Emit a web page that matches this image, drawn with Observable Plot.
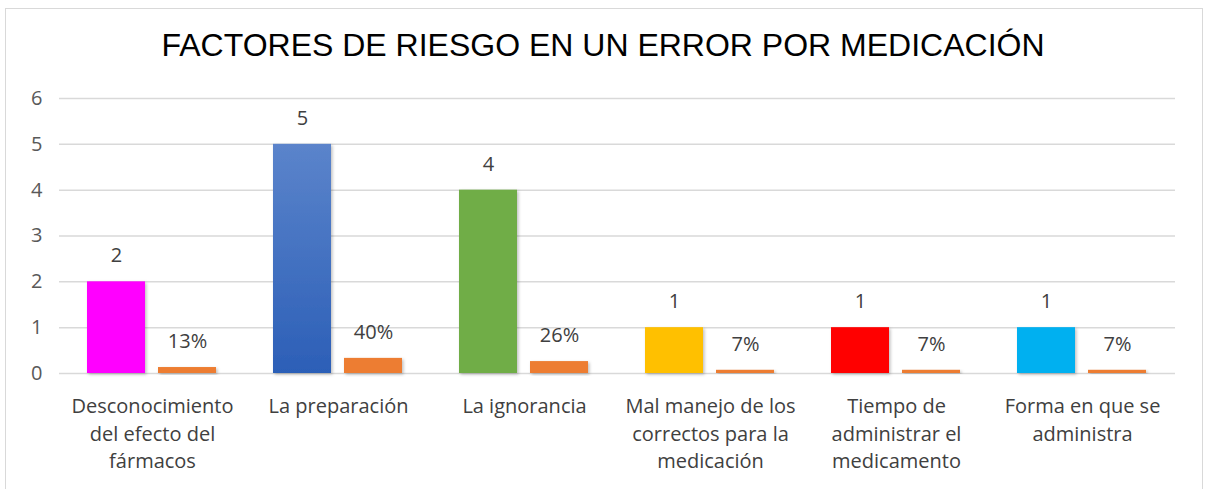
<!DOCTYPE html>
<html><head><meta charset="utf-8">
<script src="https://cdn.jsdelivr.net/npm/d3@7"></script>
<script src="https://cdn.jsdelivr.net/npm/@observablehq/plot@0.6"></script>
<style>
body{margin:0;background:#fff;}
#frame{position:absolute;left:5px;top:8px;width:1198px;height:500px;border:1.5px solid #d9d9d9;box-sizing:border-box;}
#title{position:absolute;left:0;top:27px;width:1206px;text-align:center;font:32px "Liberation Sans",Arial,sans-serif;color:#000;}
#chart{position:absolute;left:0;top:80px;}
</style></head><body>
<div id="frame"></div>
<div id="title">FACTORES DE RIESGO EN UN ERROR POR MEDICACIÓN</div>
<div id="chart"></div>
<script>
const categories = ["Desconocimiento del efecto del fármacos", "La preparación", "La ignorancia", "Mal manejo de los correctos para la medicación", "Tiempo de administrar el medicamento", "Forma en que se administra"];
const categoryLabels = ["Desconocimiento\ndel efecto del\nfármacos", "La preparación", "La ignorancia", "Mal manejo de los\ncorrectos para la\nmedicación", "Tiempo de\nadministrar el\nmedicamento", "Forma en que se\nadministra"];
const counts = [2, 5, 4, 1, 1, 1];
const shares = [0.13, 0.33, 0.26, 0.07, 0.07, 0.07];
const shareLabels = ["13%", "40%", "26%", "7%", "7%", "7%"];
const countColors = ["#FF00FF", "url(#blueGrad)", "#70AD47", "#FFC000", "#FF0000", "#00B0F0"];
const shareColor = "#ED7D31";
const seriesNames = ["count", "share"];
const yTicks = [0, 1, 2, 3, 4, 5, 6];

const rows = categories.flatMap((c, i) => [
  {cat: c, series: seriesNames[0], value: counts[i], label: String(counts[i]), color: countColors[i]},
  {cat: c, series: seriesNames[1], value: shares[i], label: shareLabels[i], color: shareColor}
]);
const labelOf = new Map(categories.map((c, i) => [c, categoryLabels[i]]));

const plot = Plot.plot({
  width: 1206, height: 409,
  marginTop: 18, marginBottom: 116, marginLeft: 58, marginRight: 31,
  style: {fontFamily: "'Open Sans', sans-serif", background: "transparent", color: "#595959", overflow: "visible"},
  fx: {domain: categories, padding: 0, label: null},
  x: {domain: seriesNames, paddingInner: 0.183, paddingOuter: 0.40, axis: null},
  y: {domain: [0, 6], label: null},
  color: {type: "identity"},
  marks: [
    Plot.gridY(yTicks, {stroke: "#d9d9d9", strokeOpacity: 1, strokeWidth: 1.5}),
    Plot.axisY(yTicks, {tickSize: 0, tickPadding: 17, fontSize: 20, label: null, fill: "#595959"}),
    Plot.axisFx({anchor: "bottom", tickSize: 0, tickPadding: 20, fontSize: 20, lineHeight: 1.38, label: null, fill: "#404040", tickFormat: d => labelOf.get(d)}),
    Plot.barY(rows, {fx: "cat", x: "series", y: "value", fill: "color"}),
    Plot.text(rows, {fx: "cat", x: "series", y: "value", text: "label", dy: -26, fontSize: 20, fill: "#404040"})
  ]
});
const ns = "http://www.w3.org/2000/svg";
const defs = document.createElementNS(ns, "defs");
defs.innerHTML = '<linearGradient id="blueGrad" x1="0" y1="0" x2="0" y2="1"><stop offset="0" stop-color="#5B84CB"/><stop offset="1" stop-color="#2C5FB7"/></linearGradient>' +
  '<filter id="barShadow" x="-20%" y="-20%" width="140%" height="140%"><feDropShadow dx="1.5" dy="1.5" stdDeviation="1.5" flood-color="#000" flood-opacity="0.25"/></filter>';
plot.insertBefore(defs, plot.firstChild);
plot.querySelectorAll('g[aria-label="bar"] rect').forEach(r => r.setAttribute("filter", "url(#barShadow)"));
document.getElementById("chart").appendChild(plot);
</script>
</body></html>
